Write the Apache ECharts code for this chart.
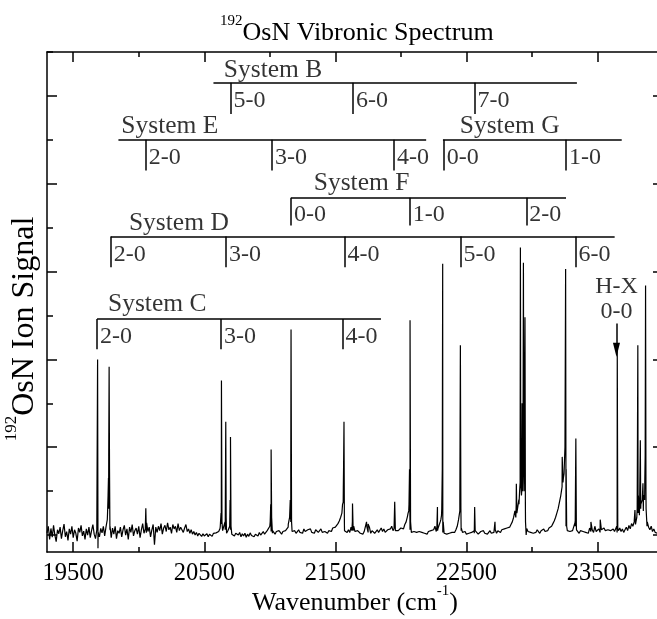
<!DOCTYPE html>
<html>
<head>
<meta charset="utf-8">
<script src="https://cdn.jsdelivr.net/npm/echarts@6/dist/echarts.min.js"></script>
<style>
html,body{margin:0;padding:0;background:#fff;}
#chart{width:657px;height:619px;}
</style>
</head>
<body>
<div id="chart"></div>
<script>
// ---------------- data ----------------
const xMajorTicks = [19500, 20500, 21500, 22500, 23500];
const xMinorTicks = [20000, 21000, 22000, 23000, 24000];
const yMajorTicks = [0, 2, 4, 6, 8, 10];
const yMinorTicks = [1, 3, 5, 7, 9, 11];

// baseline samples (every 10 cm-1 from 19300), values in 0.01 signal units
const baselineStart = 19300;
const baselineStep = 10;
const baseline = [
  5, 20, -10, 15, -5, 22, 0, -15, 12, 3,
  18, -8, 10, 25, -4, 8, -12, 14, 2, 20,
  -6, 12, 4, -14, 16, 6, 22, -2, 9, -10,
  14, 0, 18, -6, 10, 24, 2, -8, 12, 6,
  -4, 15, 5, 20, -2, 18, 35, 60, 12, -6,
  16, 2, 20, -8, 10, 4, 18, -4, 12, 22,
  0, 14, -10, 18, 6, 24, -2, 10, 16, 2,
  20, -6, 12, 26, 4, 14, 28, 8, 18, -4,
  12, 24, -22, 18, 6, 20, 10, 26, 2, 16,
  22, 8, 28, 12, 18, 4, 24, 14, 20, 6,
  26, 10, 18, 22, 6, 16, 24, 8, 14, 4,
  12, 2, 8, 0, 6, -2, 4, 2, -3, 3,
  -2, 1, 3, -4, 2, 0, -3, 4, 1, 5,
  3, 8, 15, 25, 10, 6, 12, 4, 10, 6,
  12, 2, 6, -2, 4, 8, 0, 6, -4, 3,
  -2, 4, -5, 2, -3, 5, -1, 3, -4, 2,
  4, -2, 6, 0, 3, 8, 2, 6, 10, 14,
  20, 8, 4, 6, 2, 8, 4, 10, 6, 2,
  8, 4, 10, 14, 18, 22, 30, 8, 6, 10,
  4, 8, 12, 6, 10, 4, 14, 8, 6, 12,
  8, 14, 6, 10, 4, 12, 8, 6, 10, 14,
  6, 10, 8, 12, 4, 10, 14, 8, 16, 12,
  18, 22, 26, 32, 40, 50, 75, 10, 8, 6,
  12, 6, 18, 30, 20, 8, 4, 10, 6, 4,
  6, 2, 8, 4, 20, 6, 18, 4, 10, 6,
  4, 8, 12, 6, 10, 16, 8, 14, 6, 10,
  12, 8, 14, 20, 10, 16, 12, 8, 10, 14,
  16, 20, 14, 24, 30, 42, 55, 12, 6, 4,
  8, 4, 6, 2, 8, 4, 6, 10, 4, 6,
  2, 8, 4, 10, 6, 12, 20, 8, 10, 14,
  30, 45, 6, 4, 8, 2, 6, 4, 8, 6,
  10, 6, 12, 20, 35, 55, 10, 6, 4, 8,
  2, 6, 4, 8, 6, 10, 4, 8, 6, 2,
  4, 8, 6, 10, 4, 8, 2, 6, 10, 4,
  8, 6, 12, 4, 10, 8, 6, 12, 10, 14,
  12, 16, 20, 18, 24, 30, 40, 55, 70, 60,
  80, 120, 90, 150, 100, 70, 15, 8, 12, 6,
  10, 4, 8, 6, 12, 8, 4, 10, 6, 14,
  8, 12, 10, 16, 14, 20, 26, 32, 40, 50,
  60, 75, 90, 110, 130, 140, 20, 10, 6, 8,
  4, 10, 6, 30, 12, 8, 4, 10, 6, 8,
  12, 6, 10, 4, 16, 8, 12, 6, 20, 8,
  10, 14, 6, 12, 8, 16, 10, 6, 12, 8,
  10, 6, 14, 8, 12, 6, 10, 16, 8, 14,
  6, 12, 18, 10, 22, 14, 26, 20, 30, 24,
  40, 50, 45, 60, 70, 55, 80, 100, 30, 18,
  12, 20, 8, 14, 6, 10, 4, 8, 12, 6,
  8
];

// spectral lines: [wavenumber, signal]
const peakPoints = [
  [19682, 0.1], [19686, 4.0], [19689, -0.3], [19693, 0.1],
  [19750, 0.2], [19762, 0.5], [19766, 0.9], [19769, 1.3], [19771, 1.8], [19774, 3.83], [19777, 1.5], [19781, 0.2],
  [20050, 0.1], [20054, 0.61], [20058, 0.05],
  [20622, 0.2], [20628, 0.5], [20631, 3.52], [20635, 0.3],
  [20658, 0.3], [20661, 0.9], [20664, 2.58], [20667, 0.4],
  [20694, 0.2], [20697, 0.8], [20700, 2.23], [20704, 0.2],
  [20990, 0.15], [21003, 0.3], [21007, 0.7], [21010, 1.95], [21014, 0.4], [21021, 0.1],
  [21141, 0.25], [21151, 0.4], [21156, 0.8], [21160, 1.5], [21162, 4.68], [21166, 0.3],
  [21545, 0.4], [21555, 0.7], [21561, 1.1], [21563, 1.57], [21566, 2.58], [21569, 0.3],
  [21626, 0.1], [21631, 0.72], [21636, 0.1],
  [21738, 0.3], [21750, 0.25],
  [21948, 0.15], [21953, 0.76], [21958, 0.1],
  [22055, 0.5], [22062, 0.7], [22066, 1.5], [22070, 4.89], [22074, 0.3],
  [22275, 0.2], [22279, 0.64], [22283, 0.15],
  [22305, 0.35], [22312, 0.6], [22316, 1.5], [22319, 6.18], [22323, 0.3],
  [22444, 0.35], [22450, 0.8], [22454, 4.32], [22458, 0.6], [22462, 0.15],
  [22559, 0.1], [22563, 0.64], [22567, 0.1],
  [22714, 0.1], [22718, 0.3], [22722, 0.08],
  [22877, 0.4], [22881, 1.17], [22885, 0.5],
  [22901, 0.7], [22906, 1.0], [22910, 2.0], [22912, 6.55], [22915, 1.2],
  [22922, 1.0], [22925, 3.0], [22928, 1.0],
  [22932, 2.0], [22935, 6.2], [22938, 1.5],
  [22944, 1.0], [22947, 4.96], [22951, 0.3], [22956, 0.0],
  [23225, 1.0], [23231, 1.78], [23237, 1.2], [23245, 1.4], [23252, 2.0], [23257, 6.06], [23261, 1.5], [23265, 0.2],
  [23330, 0.2], [23335, 2.2], [23339, 0.2],
  [23450, 0.3], [23521, 0.35],
  [23647, 0.2], [23651, 4.28], [23655, 0.15],
  [23783, 0.3], [23786, 0.57], [23789, 0.3],
  [23803, 0.6], [23808, 4.32], [23812, 0.9],
  [23822, 0.8], [23827, 2.16], [23831, 0.7],
  [23842, 0.8], [23847, 1.18], [23851, 0.9],
  [23861, 1.2], [23864, 1.8], [23867, 5.68], [23871, 0.6], [23878, 0.2]
];

// vibronic band assignments
const systemNames = ['System B', 'System E', 'System G', 'System F', 'System D', 'System C'];
const systemRanges = [[20570, 23343], [19845, 22193], [22321, 23685], [21162, 23260], [19787, 23631], [19682, 21848]];
const systemBands = [
  [[20701, '5-0'], [21634, '6-0'], [22561, '7-0']],
  [[20053, '2-0'], [21017, '3-0'], [21947, '4-0']],
  [[22327, '0-0'], [23260, '1-0']],
  [[21162, '0-0'], [22068, '1-0'], [22957, '2-0']],
  [[19787, '2-0'], [20666, '3-0'], [21570, '4-0'], [22455, '5-0'], [23333, '6-0']],
  [[19682, '2-0'], [20628, '3-0'], [21554, '4-0']]
];
const hxBand = 23645;

// ---------------- layout (positions in axis units) ----------------
const ladderLayout = [
  {nameX: 20649, nameY: 10.59, lineY: 10.30, tickBottom: 9.59, labelY: 9.89},
  {nameX: 19867, nameY: 9.30, lineY: 9.00, tickBottom: 8.30, labelY: 8.60},
  {nameX: 22449, nameY: 9.30, lineY: 9.00, tickBottom: 8.30, labelY: 8.60},
  {nameX: 21335, nameY: 8.01, lineY: 7.68, tickBottom: 7.05, labelY: 7.30},
  {nameX: 19925, nameY: 7.10, lineY: 6.80, tickBottom: 6.10, labelY: 6.39},
  {nameX: 19765, nameY: 5.25, lineY: 4.92, tickBottom: 4.23, labelY: 4.51}
];
const hxLayout = {textY1: 5.66, textY2: 5.08, arrowTop: 4.82, arrowBottom: 4.22};

const FONT = 'Liberation Serif';
const xMin = 19300, xMax = 24000, yMin = -0.386, yMax = 11;

// build spectrum
const spectrum = baseline.map((v, i) => [baselineStart + baselineStep * i, v / 100])
  .concat(peakPoints)
  .sort((a, b) => a[0] - b[0]);

// ladder lines and labels
const markLines = [];
const labelItems = [];
systemNames.forEach((nm, s) => {
  const L = ladderLayout[s];
  markLines.push([{coord: [systemRanges[s][0], L.lineY]}, {coord: [systemRanges[s][1], L.lineY]}]);
  labelItems.push({value: [L.nameX, L.nameY], name: nm, label: {fontSize: 25.5, distance: 0}});
  systemBands[s].forEach(b => {
    markLines.push([{coord: [b[0], L.lineY]}, {coord: [b[0], L.tickBottom]}]);
    labelItems.push({value: [b[0], L.labelY], name: b[1]});
  });
});
markLines.push([
  {coord: [hxBand, hxLayout.arrowTop], symbol: 'none'},
  {coord: [hxBand, hxLayout.arrowBottom], symbol: 'triangle', symbolSize: [7, 14]}
]);
labelItems.push({value: [hxBand, hxLayout.textY1], name: 'H-X', label: {position: 'inside', distance: 0}});
labelItems.push({value: [hxBand, hxLayout.textY2], name: '0-0', label: {position: 'inside', distance: 0}});

const richMain = {
  m: {fontFamily: FONT, fontSize: 26, fontWeight: 'normal', color: '#000', lineHeight: 38},
  s: {fontFamily: FONT, fontSize: 15, fontWeight: 'normal', color: '#000', lineHeight: 16, verticalAlign: 'top'}
};
const richY = {
  m: {fontFamily: FONT, fontSize: 32, fontWeight: 'normal', color: '#000', lineHeight: 44},
  s: {fontFamily: FONT, fontSize: 17, fontWeight: 'normal', color: '#000', lineHeight: 18, verticalAlign: 'top'}
};

function xAxisDef(pos, ticks, len, main) {
  return {
    type: 'value', position: pos, min: xMin, max: xMax,
    axisLine: {show: main, onZero: false, lineStyle: {color: '#000', width: 1.5}},
    axisTick: {show: true, inside: true, length: len, customValues: ticks, lineStyle: {color: '#000', width: 1.5}},
    axisLabel: {show: main && pos === 'bottom', customValues: ticks, formatter: v => String(v),
      fontFamily: FONT, fontSize: 24.5, color: '#000', margin: 9},
    splitLine: {show: false},
    name: (main && pos === 'bottom') ? '{m|Wavenumber (cm}{s|-1}{m|)}' : '',
    nameLocation: 'middle', nameGap: 32, nameMoveOverlap: false,
    nameTextStyle: {rich: richMain}
  };
}
function yAxisDef(pos, ticks, len, main) {
  return {
    type: 'value', position: pos, min: yMin, max: yMax,
    axisLine: {show: main && pos === 'left', onZero: false, lineStyle: {color: '#000', width: 1.5}},
    axisTick: {show: true, inside: true, length: len, customValues: ticks, lineStyle: {color: '#000', width: 1.5}},
    axisLabel: {show: false},
    splitLine: {show: false},
    name: (main && pos === 'left') ? '{s|192}{m|OsN Ion Signal}' : '',
    nameLocation: 'middle', nameGap: 0, nameMoveOverlap: false,
    nameTextStyle: {rich: richY, padding: [0, 54, 0, 0]}
  };
}

const chart = echarts.init(document.getElementById('chart'), null, {renderer: 'canvas'});
chart.setOption({
  animation: false,
  backgroundColor: '#fff',
  title: {
    text: '{s|192}{m|OsN Vibronic Spectrum}',
    left: 220, top: 14, padding: 0,
    textStyle: {fontWeight: 'normal', rich: richMain}
  },
  grid: {left: 47, right: -6, top: 52, bottom: 67, containLabel: false, outerBoundsMode: 'none'},
  xAxis: [
    xAxisDef('bottom', xMajorTicks, 10, true),
    xAxisDef('bottom', xMinorTicks, 5, false),
    xAxisDef('top', xMajorTicks, 10, true),
    xAxisDef('top', xMinorTicks, 5, false)
  ],
  yAxis: [
    yAxisDef('left', yMajorTicks, 10, true),
    yAxisDef('left', yMinorTicks, 6, false),
    yAxisDef('right', yMajorTicks, 10, true),
    yAxisDef('right', yMinorTicks, 6, false)
  ],
  series: [
    {
      type: 'line', xAxisIndex: 0, yAxisIndex: 0,
      data: spectrum, showSymbol: false, symbol: 'none',
      lineStyle: {color: '#000', width: 1.2}, silent: true, clip: true,
      markLine: {
        silent: true, symbol: ['none', 'none'],
        lineStyle: {color: '#000', width: 1.5, type: 'solid'},
        label: {show: false},
        data: markLines
      }
    },
    {
      type: 'scatter', xAxisIndex: 0, yAxisIndex: 0,
      symbolSize: 0, silent: true,
      data: labelItems,
      label: {
        show: true, position: 'right', distance: 3, formatter: '{b}',
        fontFamily: FONT, fontSize: 24, color: '#000'
      }
    }
  ]
});
</script>
</body>
</html>
